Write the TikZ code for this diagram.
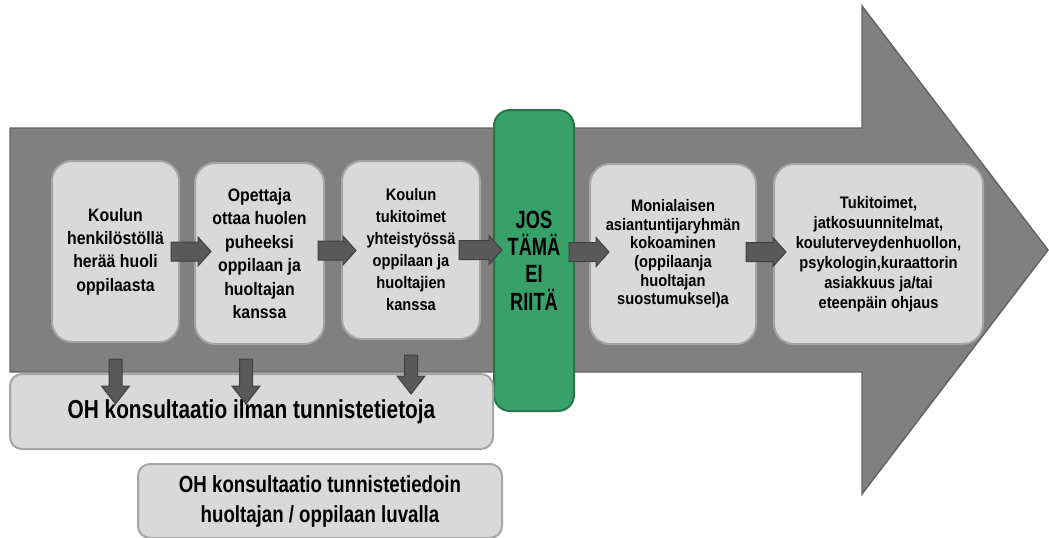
\documentclass[tikz,border=0pt]{standalone}
\usepackage{fontspec}
\setmainfont{Liberation Sans}
\newfontfamily\boxfont{Liberation Sans}[FakeStretch=0.88]
\newfontfamily\tallfont{Liberation Sans}[FakeStretch=0.8]
\newfontfamily\barfont{Liberation Sans}[FakeStretch=0.73]
\usetikzlibrary{calc}

\definecolor{bodygray}{RGB}{128,128,128}
\definecolor{bodyedge}{RGB}{100,100,100}
\definecolor{boxgray}{RGB}{217,217,217}
\definecolor{boxedge}{RGB}{165,165,165}
\definecolor{okgreen}{RGB}{56,161,105}
\definecolor{okedge}{RGB}{38,118,74}
\definecolor{arrowfill}{RGB}{89,89,89}
\definecolor{arrowedge}{RGB}{64,64,64}

\tikzset{every picture/.style={line width=0.75pt}}
\tikzset{
  stepbox/.style={draw=boxedge, fill=boxgray, line width=1.5pt, rounded corners=15pt,
    inner sep=0pt, align=center, font=\boxfont\bfseries},
  ohbox/.style={draw=boxedge, fill=boxgray, line width=1.5pt, rounded corners=9pt,
    inner sep=0pt, align=center, font=\tallfont\bfseries},
  greenbox/.style={draw=okedge, fill=okgreen, line width=1.5pt, rounded corners=12pt,
    inner sep=0pt, align=center, font=\barfont\bfseries\fontsize{18.75}{20.5}\selectfont},
  flowarrow/.style={draw=arrowedge, fill=arrowfill, line width=0.75pt},
}

% block arrow to the right: start, end (end x taken, start y kept)
\newcommand{\hflow}[2]{%
  \coordinate (fs) at (#1);
  \coordinate (fe) at (#2);
  \coordinate (ft) at (fe |- fs);
  \draw[flowarrow] ($(fs)+(0,-9.5)$) -- ($(ft)+(-13,-9.5)$) -- ($(ft)+(-13,-14.5)$) -- (ft)
    -- ($(ft)+(-13,14.5)$) -- ($(ft)+(-13,9.5)$) -- ($(fs)+(0,9.5)$) -- cycle;}
% block arrow downwards
\newcommand{\vflow}[2]{%
  \coordinate (fs) at (#1);
  \coordinate (fe) at (#2);
  \coordinate (ft) at (fs |- fe);
  \draw[flowarrow] ($(fs)+(-6.5,0)$) -- ($(ft)+(-6.5,-18)$) -- ($(ft)+(-14,-18)$) -- (ft)
    -- ($(ft)+(14,-18)$) -- ($(ft)+(6.5,-18)$) -- ($(fs)+(6.5,0)$) -- cycle;}

\begin{document}
\begin{tikzpicture}[x=0.75pt,y=0.75pt,yscale=-1,xscale=1]
	\useasboundingbox (0,0) rectangle (1049,537);
	%Big arrow
	\draw [draw=bodyedge, fill=bodygray, line width=1.1pt] (10,128) -- (862,128) -- (862,6) -- (1048,250) -- (862,494) -- (862,372) -- (10,372) -- cycle ;
	%Steps
	\node [stepbox, minimum width=95.25pt, minimum height=135.75pt, font=\boxfont\bfseries\fontsize{13.5}{17.5}\selectfont] (b1) at (115.5,251.5) {Koulun\\henkilöstöllä\\herää huoli\\oppilaasta};
	\node [stepbox, minimum width=96.75pt, minimum height=135.75pt, font=\boxfont\bfseries\fontsize{13.5}{17.6}\selectfont] (b2) at (259.5,253.5) {Opettaja\\ottaa huolen\\puheeksi\\oppilaan ja\\huoltajan\\kanssa};
	\node [stepbox, minimum width=103.5pt, minimum height=133.5pt, font=\boxfont\bfseries\fontsize{12.5}{16.5}\selectfont] (b3) at (411,250) {Koulun\\tukitoimet\\yhteistyössä\\oppilaan ja\\huoltajien\\kanssa};
	\node [stepbox, minimum width=124.5pt, minimum height=135pt, font=\boxfont\bfseries\fontsize{12.5}{14}\selectfont] (b4) at (673,254) {Monialaisen\\asiantuntijaryhmän\\kokoaminen\\(oppilaanja\\huoltajan\\suostumuksel)a};
	\node [stepbox, minimum width=156.75pt, minimum height=135pt, font=\boxfont\bfseries\fontsize{12.5}{15}\selectfont] (b5) at (878.5,254) {Tukitoimet,\\jatkosuunnitelmat,\\kouluterveydenhuollon,\\psykologin,kuraattorin\\asiakkuus ja/tai\\eteenpäin ohjaus};
	%Green bar
	\node [greenbox, minimum width=60pt, minimum height=225.75pt] (g) at (534,260.5) {JOS\\TÄMÄ\\EI\\RIITÄ};
	%Arrows between steps
	\hflow{$(b1.east)+(-9,0)$}{$(b2.west)+(17,0)$}
	\hflow{$(b2.east)+(-7,-3)$}{$(b3.west)+(15,0)$}
	\hflow{$(b3.east)+(-22,0)$}{$(g.west)+(9,0)$}
	\hflow{$(g.east |- b4.west)+(-6,-2)$}{$(b4.west)+(20,0)$}
	\hflow{$(b4.east)+(-11,-2)$}{$(b5.west)+(13,0)$}
	%Consultation boxes
	\node [ohbox, minimum width=362.25pt, minimum height=56.25pt, font=\tallfont\bfseries\fontsize{19.5}{23}\selectfont] (oh1) at (251.5,411.5) {OH konsultaatio ilman tunnistetietoja};
	\node [ohbox, minimum width=273pt, minimum height=55.5pt, font=\tallfont\bfseries\fontsize{17.5}{22.5}\selectfont] (oh2) at (320,501) {OH konsultaatio tunnistetiedoin\\huoltajan / oppilaan luvalla};
	%Arrows down
	\vflow{$(b1.south)+(0,16)$}{$(oh1.north)+(0,31)$}
	\vflow{$(b2.south)+(-13.5,14)$}{$(oh1.north)+(0,31)$}
	\vflow{$(b3.south)+(0,15)$}{$(oh1.north)+(0,21)$}
\end{tikzpicture}
\end{document}
